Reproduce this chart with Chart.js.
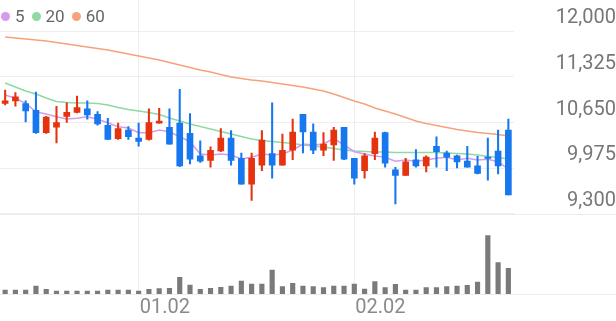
<!DOCTYPE html>
<html><head><meta charset="utf-8">
<script src="https://cdn.jsdelivr.net/npm/chart.js@4"></script>
<style>
html,body{margin:0;padding:0;background:#fff;}
#wrap{position:relative;width:616px;height:321px;overflow:hidden;}
#c{position:absolute;left:0;top:0;}
#legend{position:absolute;left:1px;top:6px;font-family:Roboto,sans-serif;font-size:17px;line-height:20px;color:#666;display:flex;align-items:center;}
.it{display:flex;align-items:center;margin-right:7px;}
.dot{width:9px;height:9px;border-radius:50%;margin-right:5px;}
</style></head><body>
<div id="wrap"><canvas id="c" width="616" height="321" style="width:616px;height:321px"></canvas><div id="legend"></div></div>
<script>
const dates = ["12.13","12.14","12.15","12.16","12.19","12.20","12.21","12.22","12.23","12.26","12.27","12.28","12.29",
"01.02","01.03","01.04","01.05","01.06","01.09","01.10","01.11","01.12","01.13","01.16","01.17","01.18","01.19","01.20","01.25","01.26","01.27","01.30","01.31",
"02.01","02.02","02.03","02.06","02.07","02.08","02.09","02.10","02.13","02.14","02.15","02.16","02.17","02.20","02.21","02.22","02.23"];
const xTickLabels = ["01.02","02.02"];
const priceTicks = [9300, 9975, 10650, 11325, 12000];
const opens  = [10930,10970,10930,10830,10500,10580,10740,10800,10850,10770,10610,10410,10540,10420,10400,10640,10580,10640,10490,10160,10090,10230,10420,10120,9740,10020,10190,10020,10240,10770,10510,10240,10320,10580,10120,9940,10190,10500,9950,9870,10100,10010,10300,10200,10160,10080,10010,10140,10230,10540];
const highs  = [11130,11090,10970,11100,10740,10890,10940,11040,10970,10810,10710,10640,10590,10640,10850,10860,10850,11140,10780,10380,10290,10560,10530,10200,10200,10530,10940,10480,10700,10770,10630,10500,10580,10580,10120,10190,10510,10510,9990,10120,10250,10160,10440,10230,10170,10300,10150,10420,10540,10700];
const lows   = [10910,10890,10660,10490,10490,10350,10650,10790,10700,10610,10400,10400,10400,10300,10390,10640,10330,10000,10040,10060,9990,10220,10020,9740,9500,9940,9830,10020,10100,10200,10190,10160,10090,10100,9740,9830,10100,9990,9450,9870,9990,9920,9990,9940,9980,9990,9890,9800,9890,9580];
const closes = [10970,11030,10820,10500,10730,10650,10800,10870,10760,10630,10400,10560,10440,10370,10650,10670,10330,10010,10110,10080,10240,10420,10090,9740,10120,10390,10020,10240,10510,10510,10240,10330,10540,10110,9830,10160,10420,10050,9870,10070,10010,10140,10220,10140,10070,9990,9900,10120,10010,9580];
const ma5  = [11056,11007,10933,10809,10775,10736,10702,10712,10736,10697,10647,10588,10569,10500,10500,10539,10514,10440,10367,10185,10170,10185,10170,10111,10137,10185,10170,10185,10244,10333,10318,10333,10417,10318,10219,10185,10156,10137,10078,10097,10078,10097,10122,10137,10097,10122,10097,10107,10072,9960];
const ma20 = [11233,11174,11115,11070,11011,10960,10945,10938,10938,10930,10908,10871,10842,10820,10798,10768,10716,10672,10628,10591,10554,10517,10480,10443,10407,10384,10370,10355,10340,10318,10303,10289,10266,10244,10230,10222,10215,10215,10207,10207,10207,10207,10207,10200,10193,10185,10170,10148,10134,10111];
const ma60 = [11911,11897,11882,11867,11852,11830,11808,11786,11764,11742,11720,11690,11661,11631,11602,11572,11535,11498,11461,11425,11395,11358,11321,11299,11277,11262,11240,11218,11196,11174,11144,11115,11070,11019,10967,10923,10864,10820,10775,10724,10672,10635,10606,10576,10547,10525,10502,10488,10473,10451];
const volumes = [40,40,40,80,47,30,30,30,30,30,40,40,40,30,47,53,57,167,90,47,57,67,80,130,100,100,240,73,107,80,73,63,80,80,100,50,123,63,97,40,40,63,63,73,80,87,120,583,313,257];
const maNames = ["5","20","60"];

const UP = '#e5320f', DOWN = '#1677ee';
const maColors = ['#d69ceb', '#8fd9a2', '#f6a27c'];

// legend (real text)
const lg = document.getElementById('legend');
maNames.forEach((n, i) => {
  const it = document.createElement('div'); it.className = 'it';
  const d = document.createElement('span'); d.className = 'dot'; d.style.background = maColors[i];
  const t = document.createElement('span'); t.textContent = n;
  it.appendChild(d); it.appendChild(t); lg.appendChild(it);
});

const candleColors = opens.map((o, i) => closes[i] >= o ? UP : DOWN);
const bodies = opens.map((o, i) => [o, closes[i]]);
const wicks = lows.map((l, i) => [l, highs[i]]);

Chart.defaults.font.family = 'Roboto, sans-serif';

const separators = {
  id: 'separators',
  beforeDatasetsDraw(chart) {
    const c = chart.ctx, y = chart.scales.y;
    c.save();
    c.strokeStyle = '#ececec'; c.lineWidth = 1;
    const ys = [Math.round(y.getPixelForValue(priceTicks[0])) + 0.5, Math.round(chart.chartArea.bottom) + 0.5];
    ys.forEach(p => { c.beginPath(); c.moveTo(0, p); c.lineTo(chart.width, p); c.stroke(); });
    c.restore();
  }
};

new Chart(document.getElementById('c'), {
  type: 'bar',
  data: {
    labels: dates,
    datasets: [
      { type: 'bar', data: bodies, backgroundColor: candleColors, barThickness: 6, grouped: false, yAxisID: 'y', borderWidth: 0 },
      { type: 'bar', data: wicks, backgroundColor: candleColors, barThickness: 1.4, grouped: false, yAxisID: 'y', borderWidth: 0 },
      { type: 'line', data: ma5, borderColor: maColors[0], borderWidth: 1.5, pointRadius: 0, fill: false, tension: 0, yAxisID: 'y' },
      { type: 'line', data: ma20, borderColor: maColors[1], borderWidth: 1.5, pointRadius: 0, fill: false, tension: 0, yAxisID: 'y' },
      { type: 'line', data: ma60, borderColor: maColors[2], borderWidth: 1.5, pointRadius: 0, fill: false, tension: 0, yAxisID: 'y' },
      { type: 'bar', data: volumes, backgroundColor: '#7a7a7a', barThickness: 4.5, grouped: false, yAxisID: 'v', borderWidth: 0 }
    ]
  },
  options: {
    responsive: false,
    animation: false,
    devicePixelRatio: 1,
    events: [],
    layout: { padding: 0 },
    plugins: { legend: { display: false }, tooltip: { enabled: false } },
    scales: {
      x: {
        offset: true,
        grid: { offset: false, color: '#eeeeee', drawTicks: false },
        border: { display: false },
        ticks: { autoSkip: false, maxRotation: 0, align: 'start', labelOffset: 1, padding: 2, color: '#8a8a8a', font: { size: 20 } },
        afterBuildTicks: s => { s.ticks = s.ticks.filter(t => xTickLabels.includes(dates[t.value])); },
        afterFit: s => { s.height = 27; s.paddingLeft = 0; s.paddingRight = 0; }
      },
      y: {
        position: 'right',
        min: 8119.67, max: 12457.38,
        grid: { color: '#eeeeee', drawTicks: false },
        border: { display: false },
        ticks: { crossAlign: 'far', padding: 37, labelOffset: -13, color: '#777', font: { size: 20 },
          callback: v => Number(v).toLocaleString('en-US') },
        afterBuildTicks: s => { s.ticks = priceTicks.map(v => ({ value: v })); },
        afterFit: s => { s.width = 102.5; s.paddingTop = 0; s.paddingBottom = 0; }
      },
      v: { display: false, min: 0, max: 2940 }
    }
  },
  plugins: [separators]
});
</script>
</body></html>
